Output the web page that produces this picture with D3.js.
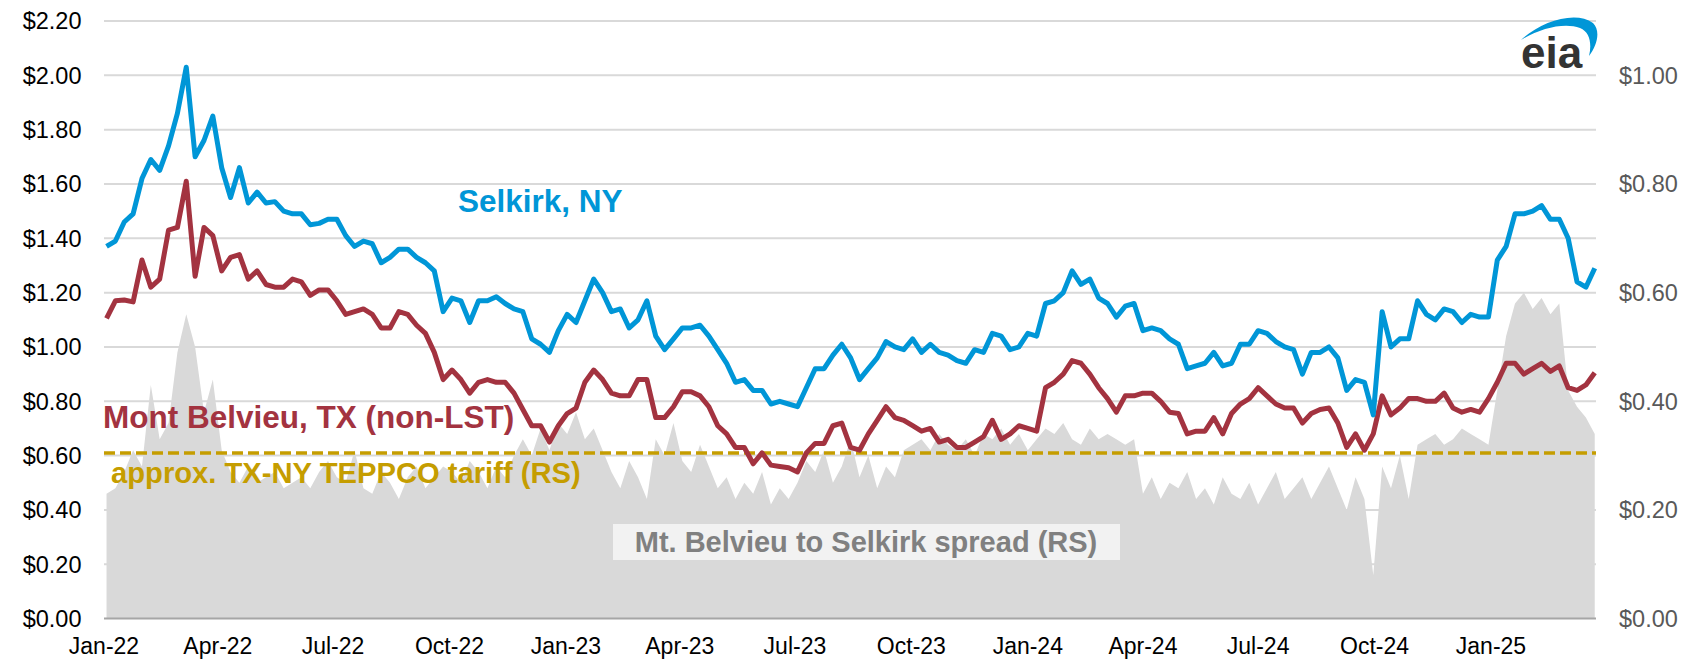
<!DOCTYPE html>
<html>
<head>
<meta charset="utf-8">
<script src="https://cdn.jsdelivr.net/npm/d3@7"></script>
<style>
  body { margin: 0; background: #fff; }
  svg text { font-family: Arial, "Liberation Sans", sans-serif; }
</style>
</head>
<body>
<div id="chart"></div>
<script>
// weekly prices, first week starts 2022-01-03 (dollars per gallon)
var firstWeek = new Date(2022, 0, 3);

var selkirk = [
  1.37,1.39,1.46,1.49,1.62,1.69,1.65,1.74,1.86,2.03,
  1.70,1.76,1.85,1.66,1.55,1.66,1.53,1.57,1.53,1.535,
  1.50,1.49,1.49,1.45,1.455,1.47,1.47,1.41,1.37,1.39,
  1.38,1.31,1.33,1.36,1.36,1.33,1.31,1.28,1.13,1.18,
  1.17,1.09,1.17,1.17,1.185,1.16,1.14,1.13,1.03,1.01,
  0.98,1.06,1.12,1.09,1.17,1.25,1.20,1.13,1.14,1.07,
  1.10,1.17,1.04,0.99,1.03,1.07,1.07,1.08,1.04,0.99,
  0.94,0.87,0.88,0.84,0.84,0.79,0.80,0.79,0.78,0.85,
  0.92,0.92,0.97,1.01,0.96,0.88,0.92,0.96,1.02,1.00,
  0.99,1.03,0.98,1.01,0.98,0.97,0.95,0.94,0.99,0.98,
  1.05,1.04,0.99,1.00,1.05,1.04,1.16,1.17,1.20,1.28,
  1.23,1.25,1.18,1.16,1.11,1.15,1.16,1.06,1.07,1.06,
  1.03,1.01,0.92,0.93,0.94,0.98,0.93,0.94,1.01,1.01,
  1.06,1.05,1.02,1.00,0.99,0.90,0.98,0.98,1.00,0.96,
  0.84,0.88,0.87,0.75,1.13,1.00,1.03,1.03,1.17,1.12,
  1.10,1.14,1.13,1.09,1.12,1.11,1.11,1.32,1.37,1.49,
  1.49,1.50,1.52,1.47,1.47,1.40,1.24,1.22,1.29
];

var montBelvieu = [
  1.105,1.17,1.173,1.166,1.32,1.22,1.25,1.43,1.44,1.61,
  1.26,1.44,1.41,1.28,1.33,1.34,1.25,1.28,1.23,1.22,
  1.22,1.25,1.24,1.19,1.21,1.21,1.17,1.12,1.13,1.14,
  1.12,1.07,1.07,1.13,1.12,1.08,1.05,0.98,0.88,0.915,
  0.88,0.83,0.87,0.88,0.87,0.87,0.83,0.77,0.71,0.71,
  0.65,0.71,0.755,0.775,0.87,0.915,0.88,0.83,0.82,0.82,
  0.88,0.88,0.74,0.74,0.78,0.835,0.835,0.82,0.78,0.71,
  0.68,0.63,0.63,0.57,0.61,0.565,0.56,0.555,0.54,0.61,
  0.645,0.645,0.71,0.72,0.63,0.62,0.68,0.73,0.78,0.74,
  0.73,0.71,0.69,0.70,0.65,0.66,0.63,0.63,0.65,0.67,
  0.73,0.66,0.68,0.71,0.70,0.69,0.85,0.87,0.90,0.95,
  0.94,0.90,0.85,0.81,0.76,0.82,0.82,0.83,0.83,0.80,
  0.76,0.755,0.68,0.69,0.69,0.74,0.68,0.755,0.79,0.81,
  0.85,0.82,0.79,0.775,0.775,0.72,0.755,0.77,0.775,0.72,
  0.63,0.68,0.62,0.68,0.82,0.75,0.775,0.81,0.81,0.80,
  0.80,0.83,0.775,0.76,0.77,0.76,0.81,0.87,0.94,0.94,
  0.90,0.92,0.94,0.91,0.93,0.85,0.84,0.86,0.905
];

// Mt. Belvieu to Selkirk spread, right scale
var spread = [
  0.23,0.24,0.27,0.31,0.28,0.43,0.33,0.36,0.49,0.56,
  0.50,0.38,0.44,0.31,0.27,0.25,0.28,0.25,0.26,0.27,
  0.24,0.25,0.26,0.24,0.27,0.29,0.26,0.25,0.31,0.24,
  0.23,0.27,0.25,0.22,0.26,0.28,0.24,0.26,0.28,0.27,
  0.25,0.29,0.27,0.24,0.28,0.26,0.30,0.33,0.30,0.35,
  0.31,0.36,0.34,0.38,0.33,0.35,0.31,0.27,0.24,0.29,
  0.26,0.22,0.33,0.30,0.36,0.29,0.27,0.32,0.28,0.24,
  0.26,0.22,0.25,0.23,0.27,0.21,0.24,0.22,0.25,0.29,
  0.27,0.31,0.25,0.28,0.33,0.26,0.30,0.24,0.28,0.26,
  0.31,0.32,0.33,0.31,0.34,0.32,0.31,0.33,0.30,0.34,
  0.33,0.35,0.32,0.34,0.31,0.33,0.35,0.34,0.36,0.33,
  0.32,0.35,0.33,0.34,0.33,0.32,0.33,0.23,0.26,0.22,
  0.25,0.24,0.27,0.22,0.24,0.21,0.26,0.23,0.22,0.25,
  0.21,0.24,0.27,0.22,0.24,0.26,0.22,0.25,0.28,0.24,
  0.20,0.26,0.22,0.08,0.28,0.24,0.30,0.22,0.32,0.33,
  0.34,0.32,0.33,0.35,0.34,0.33,0.32,0.42,0.52,0.58,
  0.60,0.57,0.59,0.56,0.58,0.42,0.39,0.37,0.34
];

var tariff = 0.305;

var leftTicks = [0, 0.2, 0.4, 0.6, 0.8, 1.0, 1.2, 1.4, 1.6, 1.8, 2.0, 2.2];
var rightTicks = [0, 0.2, 0.4, 0.6, 0.8, 1.0];
var quarterLabels = ["Jan-22", "Apr-22", "Jul-22", "Oct-22", "Jan-23", "Apr-23", "Jul-23",
                     "Oct-23", "Jan-24", "Apr-24", "Jul-24", "Oct-24", "Jan-25"];

var width = 1688;
var height = 661;

var weeks = selkirk.map(function(d, i) { return d3.timeDay.offset(firstWeek, 7 * i); });

var x = d3.scaleTime()
    .domain([new Date(2022, 0, 1), new Date(2025, 2, 25)])
    .range([104, 1596]);

var y = d3.scaleLinear().domain([0, 2.2]).range([618.6, 21]);
var yRight = d3.scaleLinear().domain([0, 1.1]).range([618.6, 21]);

var svg = d3.select("#chart").append("svg")
    .attr("width", width)
    .attr("height", height);

// gridlines
svg.append("g").selectAll("line")
    .data(leftTicks.slice(1))
  .enter().append("line")
    .attr("x1", x.range()[0])
    .attr("x2", x.range()[1])
    .attr("y1", function(d) { return y(d); })
    .attr("y2", function(d) { return y(d); })
    .attr("stroke", "#d9d9d9")
    .attr("stroke-width", 2);

// spread area (right axis)
var area = d3.area()
    .x(function(d, i) { return x(weeks[i]); })
    .y0(yRight(0))
    .y1(function(d) { return yRight(d); });

svg.append("path")
    .datum(spread)
    .attr("d", area)
    .attr("fill", "#d9d9d9");

// x axis line
svg.append("line")
    .attr("x1", x.range()[0])
    .attr("x2", x.range()[1])
    .attr("y1", y(0))
    .attr("y2", y(0))
    .attr("stroke", "#a6a6a6")
    .attr("stroke-width", 2);

// tariff line
svg.append("line")
    .attr("x1", x.range()[0])
    .attr("x2", x.range()[1])
    .attr("y1", yRight(tariff))
    .attr("y2", yRight(tariff))
    .attr("stroke", "#c59d00")
    .attr("stroke-width", 3.5)
    .attr("stroke-dasharray", "11,5");

var line = d3.line()
    .x(function(d, i) { return x(weeks[i]); })
    .y(function(d) { return y(d); });

svg.append("path")
    .datum(montBelvieu)
    .attr("d", line)
    .attr("fill", "none")
    .attr("stroke", "#a33340")
    .attr("stroke-width", 5)
    .attr("stroke-linejoin", "round");

svg.append("path")
    .datum(selkirk)
    .attr("d", line)
    .attr("fill", "none")
    .attr("stroke", "#0096d7")
    .attr("stroke-width", 5)
    .attr("stroke-linejoin", "round");

// left axis labels
svg.append("g").selectAll("text")
    .data(leftTicks)
  .enter().append("text")
    .attr("x", 81.5)
    .attr("y", function(d) { return y(d); })
    .attr("dy", "0.36em")
    .attr("text-anchor", "end")
    .attr("font-size", "23.5px")
    .attr("fill", "#000")
    .text(function(d) { return "$" + d.toFixed(2); });

// right axis labels
svg.append("g").selectAll("text")
    .data(rightTicks)
  .enter().append("text")
    .attr("x", 1619)
    .attr("y", function(d) { return yRight(d); })
    .attr("dy", "0.36em")
    .attr("font-size", "23.5px")
    .attr("fill", "#595959")
    .text(function(d) { return "$" + d.toFixed(2); });

// bottom labels, one per quarter
var quarters = d3.timeMonth.every(3).range(new Date(2022, 0, 1), new Date(2025, 1, 1));
svg.append("g").selectAll("text")
    .data(quarters)
  .enter().append("text")
    .attr("x", function(d) { return x(d); })
    .attr("y", 654)
    .attr("text-anchor", "middle")
    .attr("font-size", "23px")
    .attr("fill", "#000")
    .text(function(d, i) { return quarterLabels[i]; });

// series labels
svg.append("text")
    .attr("x", 458).attr("y", 212)
    .attr("font-size", "31.5px").attr("font-weight", "bold")
    .attr("fill", "#0096d7")
    .text("Selkirk, NY");

svg.append("text")
    .attr("x", 103).attr("y", 428)
    .attr("font-size", "31.5px").attr("font-weight", "bold")
    .attr("fill", "#a33340")
    .text("Mont Belvieu, TX (non-LST)");

svg.append("text")
    .attr("x", 111).attr("y", 483)
    .attr("font-size", "29.2px").attr("font-weight", "bold")
    .attr("fill", "#c59d00")
    .text("approx. TX-NY TEPPCO tariff (RS)");

svg.append("rect")
    .attr("x", 613).attr("y", 524)
    .attr("width", 507).attr("height", 36)
    .attr("fill", "#f2f2f2");

svg.append("text")
    .attr("x", 866).attr("y", 552)
    .attr("text-anchor", "middle")
    .attr("font-size", "29px").attr("font-weight", "bold")
    .attr("fill", "#808080")
    .text("Mt. Belvieu to Selkirk spread (RS)");

// eia logo
svg.append("path")
    .attr("d", "M1521,40 C1540,22 1575,10 1593,23 C1601,31 1597,46 1589,56 C1592,44 1590,32 1580,28 C1565,22 1540,28 1521,40 Z")
    .attr("fill", "#0096d7");

svg.append("text")
    .attr("x", 1521).attr("y", 68)
    .attr("font-size", "44px").attr("font-weight", "bold")
    .attr("fill", "#333333")
    .text("eia");
</script>
</body>
</html>
